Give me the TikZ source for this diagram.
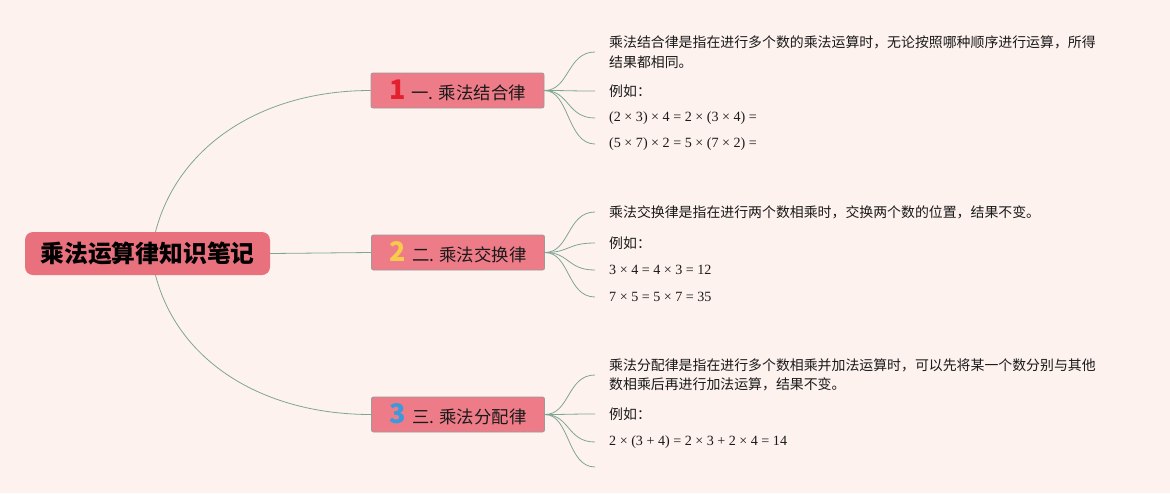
\documentclass[tikz,border=0pt]{standalone}
\usepackage{fontspec}
\setmainfont{Liberation Serif}
\newfontfamily\cjk{Noto Sans CJK SC}
\definecolor{bgc}{HTML}{FDF2EE}
\definecolor{rootc}{HTML}{E9717E}
\definecolor{brc}{HTML}{EE7C88}
\definecolor{brd}{HTML}{9A9A9A}
\definecolor{linkc}{HTML}{7FA693}
\definecolor{n1}{HTML}{E3202E}
\definecolor{n2}{HTML}{F6CB4B}
\definecolor{n3}{HTML}{3A9ADB}
\definecolor{txt}{HTML}{1A1A1A}
\begin{document}
\begin{tikzpicture}[x=1pt,y=-1pt,
  root/.style={fill=rootc, rounded corners=8pt, minimum width=245pt, minimum height=43pt, inner sep=0pt,
    font=\cjk\bfseries\fontsize{23.8}{26}\selectfont, text=black},
  branch/.style={fill=brc, draw=brd, line width=0.8pt, rounded corners=2pt, minimum width=173pt, minimum height=35pt, inner sep=0pt,
    font=\cjk\fontsize{17.4}{20}\selectfont, text=txt},
  leaf/.style={anchor=west, inner xsep=14pt, inner ysep=0pt, align=left, text=txt,
    font=\cjk\fontsize{13.9}{19.5}\selectfont},
  eqleaf/.style={anchor=west, inner xsep=14pt, inner ysep=0pt, align=left, text=txt,
    font=\rmfamily\fontsize{14.1}{16}\selectfont},
  link/.style={draw=linkc, line width=0.8pt}
]
\fill[bgc] (0,0) rectangle (1170,493);
\useasboundingbox (0,0) rectangle (1170,493);

\node[root] (c) at (147.5,253.5) {乘法运算律知识笔记};

\node[branch] (b1) at (457.5,90.5) {{\cjk\bfseries\fontsize{27}{27}\selectfont\color{n1}1}\hspace{6pt}一. 乘法结合律};
\node[branch] (b2) at (458,252.5) {{\cjk\bfseries\fontsize{27}{27}\selectfont\color{n2}2}\hspace{6pt}二. 乘法交换律};
\node[branch] (b3) at (458,414.5) {{\cjk\bfseries\fontsize{27}{27}\selectfont\color{n3}3}\hspace{6pt}三. 乘法分配律};

\draw[link] ([xshift=8pt]c.north) .. controls +(22,-85) and +(-110,0) .. (b1.west);
\draw[link] (c.east) -- (b2.west);
\draw[link] ([xshift=8pt]c.south) .. controls +(22,85) and +(-110,0) .. (b3.west);

% branch 1 leaves
\node[leaf] (l11) at (595,52) {乘法结合律是指在进行多个数的乘法运算时，无论按照哪种顺序进行运算，所得\\结果都相同。};
\node[leaf] (l12) at (595,91) {例如：};
\node[eqleaf] (l13) at (595,118) {(2 × 3) × 4 = 2 × (3 × 4) =};
\node[eqleaf] (l14) at (595,144) {(5 × 7) × 2 = 5 × (7 × 2) =};
\foreach \l in {l11,l12,l13,l14}
  \draw[link] (b1.east) .. controls +(25,0) and +(-28,0) .. (\l.west);

% branch 2 leaves
\node[leaf] (l21) at (595,212) {乘法交换律是指在进行两个数相乘时，交换两个数的位置，结果不变。};
\node[leaf] (l22) at (595,243) {例如：};
\node[eqleaf] (l23) at (595,270) {3 × 4 = 4 × 3 = 12};
\node[eqleaf] (l24) at (595,297) {7 × 5 = 5 × 7 = 35};
\foreach \l in {l21,l22,l23,l24}
  \draw[link] (b2.east) .. controls +(25,0) and +(-28,0) .. (\l.west);

% branch 3 leaves
\node[leaf] (l31) at (595,375) {乘法分配律是指在进行多个数相乘并加法运算时，可以先将某一个数分别与其他\\数相乘后再进行加法运算，结果不变。};
\node[leaf] (l32) at (595,414) {例如：};
\node[eqleaf] (l33) at (595,442) {2 × (3 + 4) = 2 × 3 + 2 × 4 = 14};
\coordinate (l34) at (595,467);
\foreach \l in {l31,l32,l33}
  \draw[link] (b3.east) .. controls +(25,0) and +(-28,0) .. (\l.west);
\draw[link] (b3.east) .. controls +(25,0) and +(-28,0) .. (l34);
\end{tikzpicture}
\end{document}
